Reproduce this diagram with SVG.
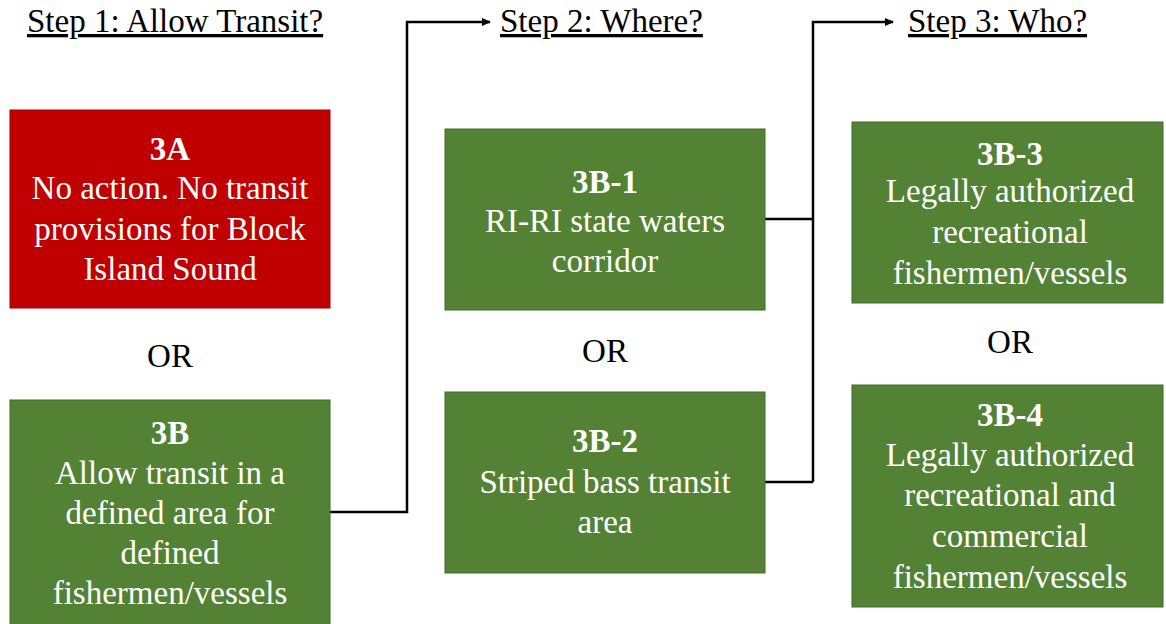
<svg xmlns="http://www.w3.org/2000/svg" width="1166" height="624" viewBox="0 0 1166 624">
<defs>
<marker id="ah" markerWidth="10" markerHeight="10" refX="8" refY="5" orient="auto" markerUnits="userSpaceOnUse">
<path d="M0,1 L9,5 L0,9 Z" fill="#000"/>
</marker>
</defs>
<rect width="1166" height="624" fill="#fff"/>
<g id="headers" fill="#000">
<text font-family="Times New Roman" font-size="33" text-decoration="underline" x="27" y="32">Step 1: Allow Transit?</text>
<text font-family="Times New Roman" font-size="33" text-decoration="underline" x="500" y="32">Step 2: Where?</text>
<text font-family="Times New Roman" font-size="33" text-decoration="underline" x="908" y="32">Step 3: Who?</text>
</g>
<g id="connectors" fill="none" stroke="#000" stroke-width="2.5">
<path d="M330,512 H407 V22 H490" marker-end="url(#ah)"/>
<path d="M765,219 H813 M765,482 H813 M813,482 V22 H893" marker-end="url(#ah)"/>
</g>
<g id="n3A" fill="#fff" text-anchor="middle">
<rect fill="#C00000" stroke="#a00000" x="10" y="110" width="320" height="198"/>
<text font-family="Times New Roman" font-size="33" font-weight="bold" x="170" y="160">3A</text>
<text font-family="Times New Roman" font-size="33" x="170" y="199">No action. No transit</text>
<text font-family="Times New Roman" font-size="33" x="170" y="240">provisions for Block</text>
<text font-family="Times New Roman" font-size="33" x="170" y="280">Island Sound</text>
</g>
<g id="or1" fill="#000" text-anchor="middle"><text font-family="Times New Roman" font-size="33" x="170" y="367">OR</text></g>
<g id="n3B" fill="#fff" text-anchor="middle">
<rect fill="#548235" stroke="#3f6b28" x="10" y="400" width="320" height="230"/>
<text font-family="Times New Roman" font-size="33" font-weight="bold" x="170" y="444">3B</text>
<text font-family="Times New Roman" font-size="33" x="170" y="484">Allow transit in a</text>
<text font-family="Times New Roman" font-size="33" x="170" y="524">defined area for</text>
<text font-family="Times New Roman" font-size="33" x="170" y="564">defined</text>
<text font-family="Times New Roman" font-size="33" x="170" y="604">fishermen/vessels</text>
</g>
<g id="n3B1" fill="#fff" text-anchor="middle">
<rect fill="#548235" stroke="#3f6b28" x="445" y="129" width="320" height="181"/>
<text font-family="Times New Roman" font-size="33" font-weight="bold" x="605" y="193">3B-1</text>
<text font-family="Times New Roman" font-size="33" x="605" y="232">RI-RI state waters</text>
<text font-family="Times New Roman" font-size="33" x="605" y="272">corridor</text>
</g>
<g id="or2" fill="#000" text-anchor="middle"><text font-family="Times New Roman" font-size="33" x="605" y="362">OR</text></g>
<g id="n3B2" fill="#fff" text-anchor="middle">
<rect fill="#548235" stroke="#3f6b28" x="445" y="392" width="320" height="181"/>
<text font-family="Times New Roman" font-size="33" font-weight="bold" x="605" y="452">3B-2</text>
<text font-family="Times New Roman" font-size="33" x="605" y="493">Striped bass transit</text>
<text font-family="Times New Roman" font-size="33" x="605" y="533">area</text>
</g>
<g id="n3B3" fill="#fff" text-anchor="middle">
<rect fill="#548235" stroke="#3f6b28" x="852" y="122" width="311" height="181"/>
<text font-family="Times New Roman" font-size="33" font-weight="bold" x="1010" y="165">3B-3</text>
<text font-family="Times New Roman" font-size="33" x="1010" y="202">Legally authorized</text>
<text font-family="Times New Roman" font-size="33" x="1010" y="243">recreational</text>
<text font-family="Times New Roman" font-size="33" x="1010" y="284">fishermen/vessels</text>
</g>
<g id="or3" fill="#000" text-anchor="middle"><text font-family="Times New Roman" font-size="33" x="1010" y="353">OR</text></g>
<g id="n3B4" fill="#fff" text-anchor="middle">
<rect fill="#548235" stroke="#3f6b28" x="852" y="385" width="311" height="222"/>
<text font-family="Times New Roman" font-size="33" font-weight="bold" x="1010" y="426">3B-4</text>
<text font-family="Times New Roman" font-size="33" x="1010" y="466">Legally authorized</text>
<text font-family="Times New Roman" font-size="33" x="1010" y="506">recreational and</text>
<text font-family="Times New Roman" font-size="33" x="1010" y="547">commercial</text>
<text font-family="Times New Roman" font-size="33" x="1010" y="588">fishermen/vessels</text>
</g>
</svg>
